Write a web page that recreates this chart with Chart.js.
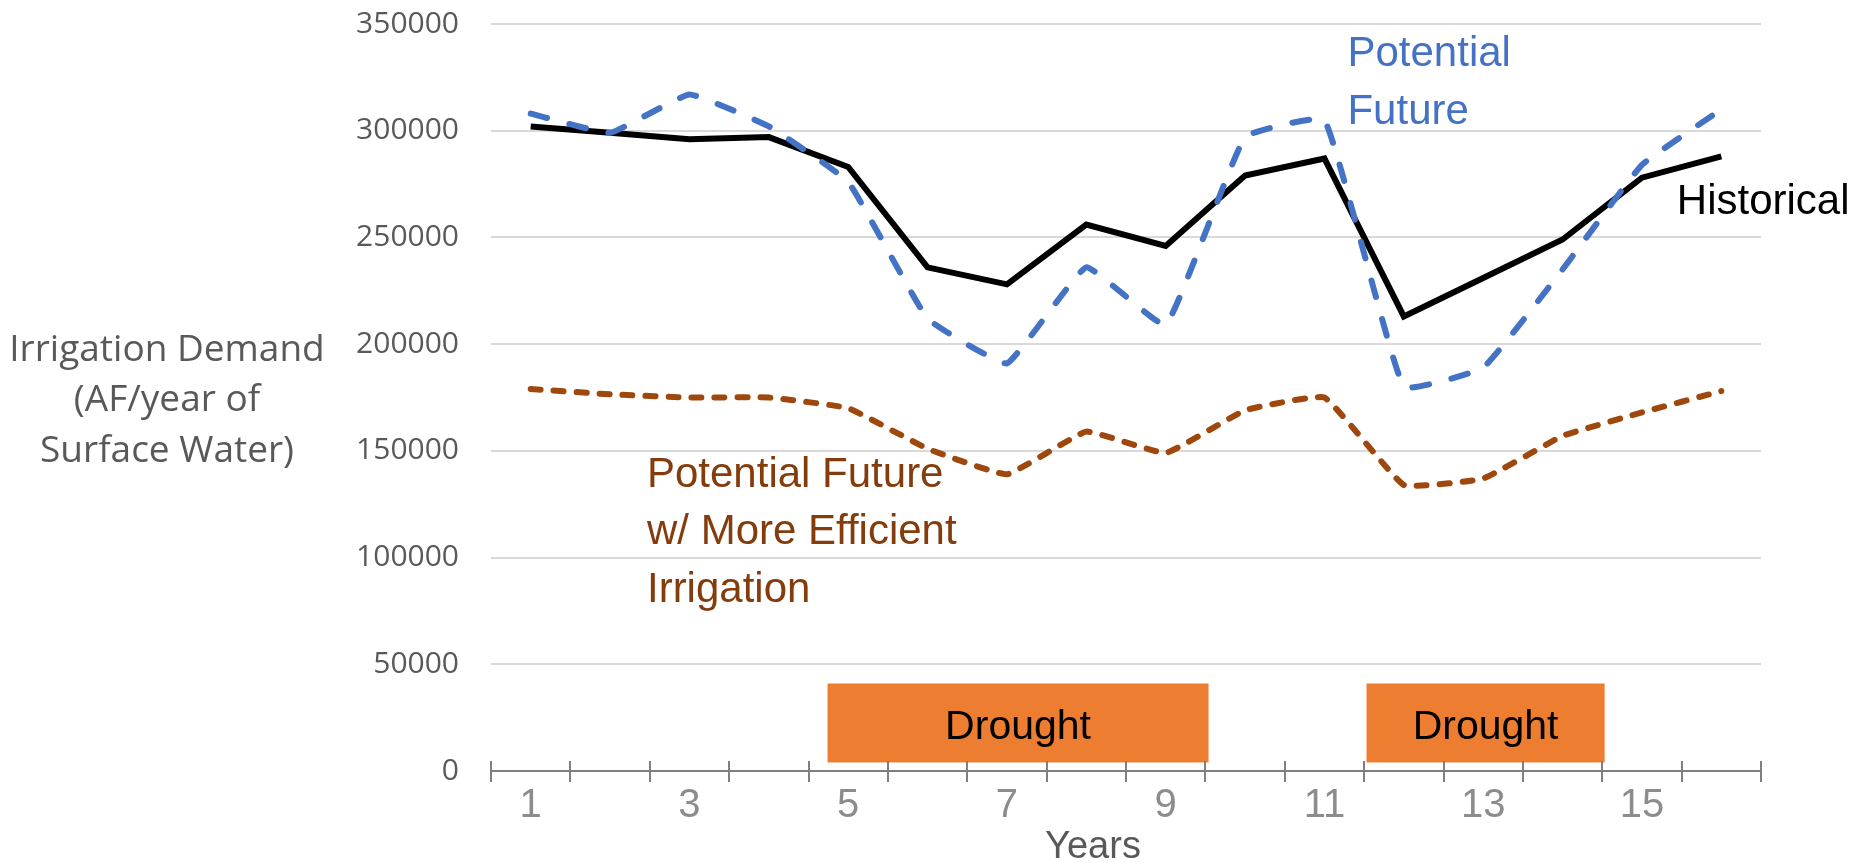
<!DOCTYPE html>
<html>
<head>
<meta charset="utf-8">
<script src="https://cdn.jsdelivr.net/npm/chart.js@4"></script>
<style>
  html, body { margin: 0; padding: 0; background: #fff; }
</style>
</head>
<body>
<canvas id="chart" width="1860" height="863"></canvas>
<script>
// Data
const years = ['1', '2', '3', '4', '5', '6', '7', '8', '9', '10', '11', '12', '13', '14', '15', '16'];
const historical = [302000, 299000, 296000, 297000, 283000, 236000, 228000, 256000, 246000, 279000, 287000, 213000, 231000, 249000, 278000, 288000];
const potentialFuture = [308000, 299000, 317000, 302000, 276000, 212000, 191000, 236000, 209000, 297000, 305000, 180000, 189000, 235000, 284000, 310000];
const efficientFuture = [179000, 176500, 175000, 175000, 170000, 151000, 139000, 159000, 149000, 169000, 175000, 134000, 137000, 157000, 168000, 178000];
const yTicks = [0, 50000, 100000, 150000, 200000, 250000, 300000, 350000];

// drought periods, in years along the x axis, and their height in AF/year
const droughtFrom = [4.74, 11.53];
const droughtTo = [9.54, 14.53];
const droughtBottom = 4000;
const droughtTop = 41000;

const textFont = '"Liberation Sans", Arial, sans-serif';
const axisFont = '"Open Sans", "DejaVu Sans", sans-serif';

// annotations drawn on the plot, placed by category position and value
const annotationPlugin = {
    id: 'annotations',
    beforeDatasetsDraw(chart) {
        const ctx = chart.ctx;
        const x = chart.scales.x;
        const y = chart.scales.y;
        ctx.save();
        droughtFrom.forEach((from, i) => {
            const left = x.getPixelForValue(from - 1);
            const right = x.getPixelForValue(droughtTo[i] - 1);
            const top = y.getPixelForValue(droughtTop);
            const bottom = y.getPixelForValue(droughtBottom);
            ctx.fillStyle = '#ED7D31';
            ctx.fillRect(left, top, right - left, bottom - top);
            ctx.fillStyle = '#000';
            ctx.font = '41px ' + textFont;
            ctx.textAlign = 'center';
            ctx.textBaseline = 'alphabetic';
            ctx.fillText('Drought', (left + right) / 2, y.getPixelForValue(15000));
        });
        ctx.restore();
    },
    afterDraw(chart) {
        const ctx = chart.ctx;
        const x = chart.scales.x;
        const y = chart.scales.y;
        const area = chart.chartArea;
        ctx.save();
        ctx.textBaseline = 'alphabetic';
        ctx.textAlign = 'left';
        ctx.font = '42px ' + textFont;

        ctx.fillStyle = '#4472C4';
        ctx.fillText('Potential', x.getPixelForValue(10.29), y.getPixelForValue(330500));
        ctx.fillText('Future', x.getPixelForValue(10.29), y.getPixelForValue(303200));

        ctx.fillStyle = '#000';
        ctx.fillText('Historical', x.getPixelForValue(14.44), y.getPixelForValue(261000));

        ctx.fillStyle = '#843C0C';
        ctx.fillText('Potential Future', x.getPixelForValue(1.465), y.getPixelForValue(133100));
        ctx.fillText('w/ More Efficient', x.getPixelForValue(1.465), y.getPixelForValue(106400));
        ctx.fillText('Irrigation', x.getPixelForValue(1.465), y.getPixelForValue(79200));

        // axis titles
        ctx.fillStyle = '#595959';
        ctx.textAlign = 'center';
        ctx.textBaseline = 'middle';
        ctx.font = '37px ' + axisFont;
        const mid = y.getPixelForValue(173400);
        ctx.fillText('Irrigation Demand', 167, mid - 50);
        ctx.fillText('(AF/year of', 167, mid);
        ctx.fillText('Surface Water)', 167, mid + 51);

        ctx.font = '38px ' + textFont;
        ctx.textBaseline = 'alphabetic';
        ctx.fillText('Years', (area.left + area.right) / 2 - 33, 858);

        // upper half of the category tick marks
        ctx.strokeStyle = '#7f7f7f';
        ctx.lineWidth = 2;
        for (let i = 0; i <= years.length; i++) {
            const px = Math.round(x.getPixelForValue(i - 0.5));
            ctx.beginPath();
            ctx.moveTo(px, area.bottom - 10);
            ctx.lineTo(px, area.bottom);
            ctx.stroke();
        }
        ctx.restore();
    }
};

document.addEventListener('DOMContentLoaded', () => {
    const ctx = document.getElementById('chart').getContext('2d');
    new Chart(ctx, {
        type: 'line',
        data: {
            labels: years,
            datasets: [{
                label: 'Potential Future',
                data: potentialFuture,
                borderColor: '#4472C4',
                borderWidth: 6,
                borderDash: [17, 23],
                borderCapStyle: 'round',
                tension: 0.1,
                pointRadius: 0,
                order: 0
            }, {
                label: 'Historical',
                data: historical,
                borderColor: '#000',
                borderWidth: 6,
                tension: 0,
                pointRadius: 0,
                order: 1
            }, {
                label: 'Potential Future w/ More Efficient Irrigation',
                data: efficientFuture,
                borderColor: '#9E480E',
                borderWidth: 6,
                borderDash: [10, 13],
                borderCapStyle: 'round',
                tension: 0.1,
                pointRadius: 0,
                order: 2
            }]
        },
        options: {
            responsive: false,
            animation: false,
            layout: { padding: { left: 0, right: 99, top: 24, bottom: 0 } },
            plugins: {
                legend: { display: false },
                tooltip: { enabled: false }
            },
            scales: {
                x: {
                    offset: true,
                    afterFit: s => { s.height = 92; },
                    grid: {
                        offset: true,
                        drawOnChartArea: false,
                        drawTicks: true,
                        tickLength: 11,
                        color: '#7f7f7f',
                        lineWidth: 2
                    },
                    border: { color: '#7f7f7f', width: 2 },
                    ticks: {
                        autoSkip: false,
                        maxRotation: 0,
                        padding: 0,
                        color: '#8c8c8c',
                        font: { family: textFont, size: 40 },
                        callback: (val, i) => (i % 2 === 0 ? years[i] : '')
                    }
                },
                y: {
                    min: 0,
                    max: 350000,
                    afterFit: s => {
                        s.width = 491;
                        s.paddingTop = 0;
                        s.paddingBottom = 0;
                    },
                    afterBuildTicks: s => { s.ticks = yTicks.map(v => ({ value: v })); },
                    grid: {
                        drawTicks: false,
                        color: c => (c.tick && c.tick.value === 0 ? 'rgba(0,0,0,0)' : '#d9d9d9'),
                        lineWidth: 2
                    },
                    border: { display: false },
                    ticks: {
                        padding: 32,
                        color: '#595959',
                        font: { family: axisFont, size: 30 },
                        callback: v => String(v)
                    }
                }
            }
        },
        plugins: [annotationPlugin]
    });
});
</script>
</body>
</html>
